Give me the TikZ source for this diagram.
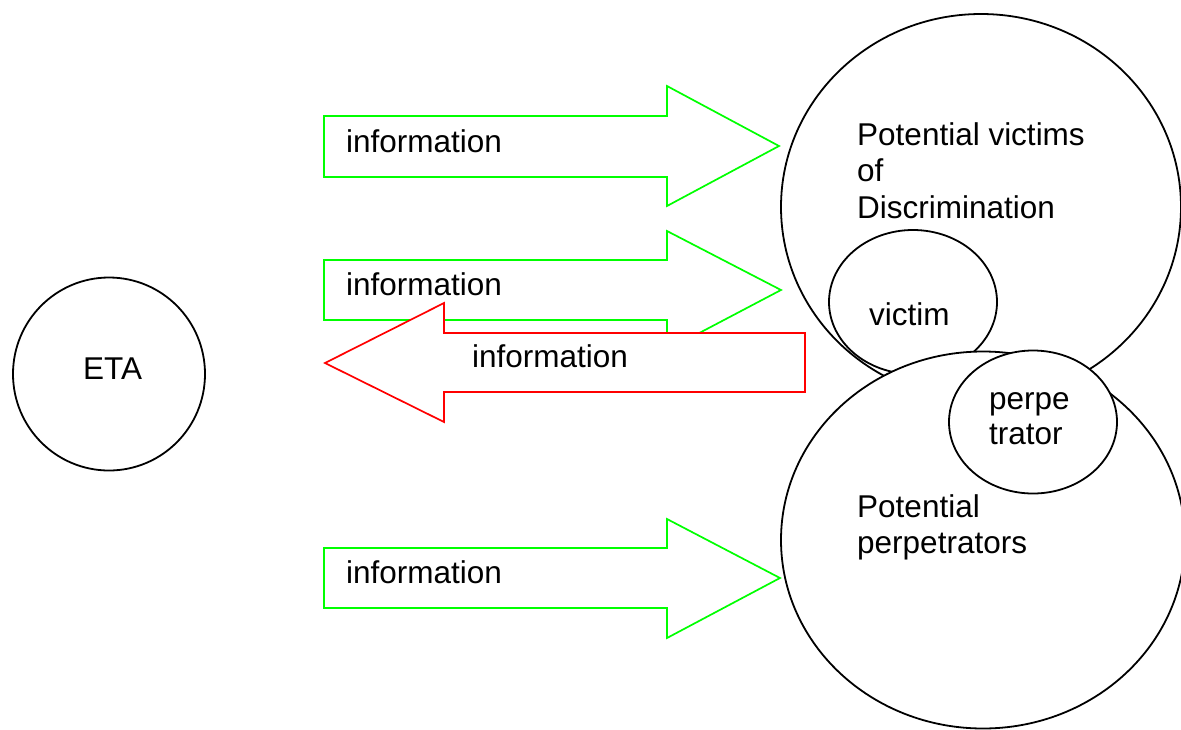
\documentclass[tikz,border=0pt]{standalone}
\usepackage{fontspec}
\setmainfont{Liberation Sans}
\usetikzlibrary{shapes.geometric}
\definecolor{arrgreen}{RGB}{0,255,0}
\definecolor{arrred}{RGB}{255,0,0}
\tikzset{
  blob/.style={draw=black, line width=1.8pt, fill=white, ellipse, inner sep=0pt},
  lbl/.style={inner sep=0pt, anchor=base west, font=\fontsize{31.5}{36.5}\selectfont},
  greenarrow/.style={draw=arrgreen, line width=1.7pt, fill=white, line join=miter},
  redarrow/.style={draw=arrred, line width=1.7pt, fill=white, line join=miter},
}
\begin{document}
\begin{tikzpicture}[x=1pt, y=-1pt]
\useasboundingbox (0,0) rectangle (1181,729);
\clip (0,0) rectangle (1181,729);

% ETA
\node[blob, minimum width=192pt, minimum height=193pt] (eta) at (109,374) {};
\node[lbl] (etatext) at (83,379) {ETA};

% Potential victims ellipse
\node[blob, minimum width=400pt, minimum height=386pt] (victims) at (981,207) {};
\node[lbl] (vt1) at (857,145) {Potential victims};
\node[lbl] (vt2) at (857,181) {of};
\node[lbl] (vt3) at (857,218) {Discrimination};

% victim
\node[blob, minimum width=168pt, minimum height=144pt] (victim) at (913,302) {};
\node[lbl] (victimtext) at (869,325) {victim};

% Potential perpetrators ellipse
\node[blob, minimum width=404pt, minimum height=377pt] (perps) at (983,540) {};
\node[lbl] (pt1) at (857,517) {Potential};
\node[lbl] (pt2) at (857,553) {perpetrators};

% perpetrator
\node[blob, minimum width=168pt, minimum height=143pt] (perp) at (1033,422) {};
\node[lbl] (pp1) at (989,409) {perpe};
\node[lbl] (pp2) at (989,444) {trator};

% green arrow 1
\draw[greenarrow] (324,116) -- (667,116) -- (667,86) -- (779,146) -- (667,206) -- (667,177) -- (324,177) -- cycle;
\node[lbl] (info1) at (346,152) {information};

% green arrow 2
\draw[greenarrow] (324,260) -- (667,260) -- (667,231) -- (781,290) -- (667,350) -- (667,320) -- (324,320) -- cycle;
\node[lbl] (info2) at (346,295) {information};

% red arrow (back)
\draw[redarrow] (805,333) -- (444,333) -- (444,303) -- (325,363) -- (444,422) -- (444,392) -- (805,392) -- cycle;
\node[lbl] (info3) at (472,367) {information};

% green arrow 3
\draw[greenarrow] (324,548) -- (667,548) -- (667,519) -- (780,578) -- (667,638) -- (667,608) -- (324,608) -- cycle;
\node[lbl] (info4) at (346,583) {information};
\end{tikzpicture}
\end{document}
